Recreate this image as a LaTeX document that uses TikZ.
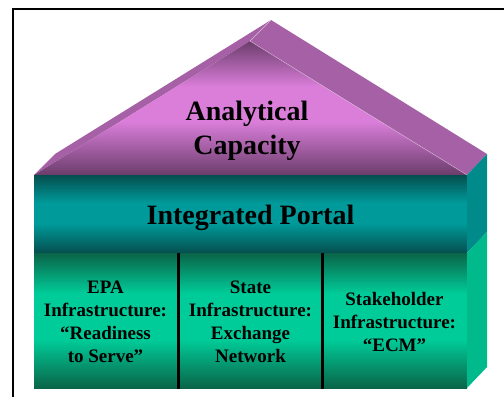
\documentclass[tikz,border=0pt]{standalone}
\usepackage{fontspec}
\setmainfont{Liberation Serif}

\definecolor{roofdark}{HTML}{6B3D6B}
\definecolor{rooflight}{HTML}{DA7EDA}
\definecolor{roofslope}{HTML}{A660A6}
\definecolor{portaldark}{HTML}{054E4E}
\definecolor{portallight}{HTML}{009A9A}
\definecolor{portalside}{HTML}{008A8A}
\definecolor{infradark}{HTML}{0A6448}
\definecolor{infralight}{HTML}{00CC99}
\definecolor{infraside}{HTML}{00BA8C}

% band shadings: 25bp..75bp cover the shaded shape
\pgfdeclareverticalshading{roofshade}{100bp}{color(0bp)=(roofdark); color(25bp)=(roofdark);
  color(45bp)=(rooflight); color(58bp)=(rooflight); color(75bp)=(roofdark); color(100bp)=(roofdark)}
\pgfdeclareverticalshading{portalshade}{100bp}{color(0bp)=(portaldark); color(25bp)=(portaldark);
  color(44bp)=(portallight); color(57bp)=(portallight); color(75bp)=(portaldark); color(100bp)=(portaldark)}
\pgfdeclareverticalshading{infrashade}{100bp}{color(0bp)=(infradark); color(25bp)=(infradark);
  color(43bp)=(infralight); color(60bp)=(infralight); color(75bp)=(infradark); color(100bp)=(infradark)}

\tikzset{
  bigtext/.style={font=\bfseries\fontsize{28}{34}\selectfont, align=center, inner sep=0pt},
  colltext/.style={font=\bfseries\fontsize{19}{23}\selectfont, align=center, inner sep=0pt},
  divider/.style={line width=3pt, black},
}

\begin{document}
\begin{tikzpicture}[x=1pt, y=-1pt]
\useasboundingbox (0,0) rectangle (504,397);

% Frame
\draw[line width=2pt] (13,397) -- (13,9) -- (504,9);

% Define corners
\coordinate (FL) at (34,175);
\coordinate (FR) at (467,175);
\coordinate (FA) at (250,41);
\coordinate (BA) at (271,20);
\coordinate (BL) at (55,154);
\coordinate (BR) at (487,154);
\coordinate (PL) at (34,253);
\coordinate (PR) at (467,253);
\coordinate (PB) at (487,232);
\coordinate (GL) at (34,388);
\coordinate (GR) at (467,388);
\coordinate (GB) at (487,367);

% Roof
\fill[roofslope] (FL) -- (BL) -- (BA) -- (FA) -- cycle;
\fill[roofslope] (FA) -- (BA) -- (BR) -- (FR) -- cycle;
\shade[shading=roofshade] (FL) -- (FA) -- (FR) -- cycle;
\draw[roofslope!45!white, line width=0.4pt] (FR) -- (FA) -- (BA);

% Integrated portal band
\shade[shading=portalshade] (FL) rectangle (PR);
\fill[portalside] (FR) -- (BR) -- (PB) -- (PR) -- cycle;

% Infrastructure band
\shade[shading=infrashade] (PL) rectangle (GR);
\fill[infraside] (PR) -- (PB) -- (GB) -- (GR) -- cycle;

% Dividers
\coordinate (D1t) at (178,253);
\coordinate (D1b) at (178,389);
\coordinate (D2t) at (322,253);
\coordinate (D2b) at (322,389);
\draw[divider] (D1t) -- (D1b);
\draw[divider] (D2t) -- (D2b);

% Labels
\node[bigtext] (roof) at (247,131) {Analytical\\Capacity};
\node[bigtext, anchor=base] (portal) at (250.5,224) {Integrated Portal};
\node[colltext] (epa) at (105.5,321.5) {EPA\\Infrastructure:\\“Readiness\\to Serve”};
\node[colltext] (state) at (250.5,321.5) {State\\Infrastructure:\\Exchange\\Network};
\node[colltext] (stake) at (394.5,321.5) {Stakeholder\\Infrastructure:\\“ECM”};

\end{tikzpicture}
\end{document}
